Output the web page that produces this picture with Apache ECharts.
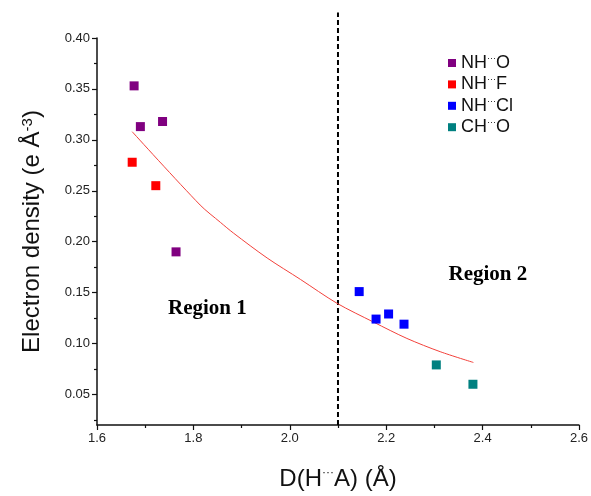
<!DOCTYPE html>
<html>
<head>
<meta charset="utf-8">
<script src="https://cdn.jsdelivr.net/npm/echarts@6/dist/echarts.min.js"></script>
<style>html,body{margin:0;padding:0;background:#fff}#c{width:591px;height:496px}</style>
</head>
<body>
<div id="c"></div>
<script>
const xTicks = [1.6, 1.8, 2.0, 2.2, 2.4, 2.6];
const yTicks = [0.05, 0.10, 0.15, 0.20, 0.25, 0.30, 0.35, 0.40];
const yMinorTicks = [0.025, 0.075, 0.125, 0.175, 0.225, 0.275, 0.325, 0.375];
const nhO = [[1.677, 0.353], [1.690, 0.313], [1.736, 0.318], [1.764, 0.190]];
const nhF = [[1.673, 0.278], [1.722, 0.255]];
const nhCl = [[2.144, 0.151], [2.179, 0.124], [2.205, 0.129], [2.237, 0.119]];
const chO = [[2.304, 0.079], [2.380, 0.060]];
const fitLine = [[1.673, 0.308], [1.814, 0.236], [1.856, 0.219], [1.883, 0.2085], [1.953, 0.184], [2.022, 0.163], [2.098, 0.1395], [2.174, 0.121], [2.243, 0.105], [2.312, 0.092], [2.381, 0.0814]];
const divider = [[2.1, 0.02], [2.1, 0.425]];
const regionLabels = [{ value: [1.829, 0.1346], name: 'Region 1' }, { value: [2.411, 0.1677], name: 'Region 2' }];
const seriesNames = ['NH\u00b7\u00b7\u00b7O', 'NH\u00b7\u00b7\u00b7F', 'NH\u00b7\u00b7\u00b7Cl', 'CH\u00b7\u00b7\u00b7O'];
const colors = ['#800080', '#ff0000', '#0000ff', '#008080'];

const chart = echarts.init(document.getElementById('c'));
const scatter = (name, data, color) => ({
  name, type: 'scatter', data, symbol: 'rect', symbolSize: 9,
  itemStyle: { color, opacity: 1 }, z: 5
});
const axisLineStyle = { color: '#111', width: 1.5 };
const tickStyle = { color: '#111', width: 1.2 };
chart.setOption({
  animation: false,
  grid: { left: 97, right: 12, top: 38, bottom: 69 },
  legend: {
    orient: 'vertical', left: 443, top: 49, itemGap: 3.4,
    itemWidth: 8, itemHeight: 8, icon: 'rect',
    data: seriesNames,
    formatter: n => {
      const p = n.split('\u00b7\u00b7\u00b7');
      return '{a|' + p[0] + '}{s|\u00b7\u00b7\u00b7}{a|' + p[1] + '}';
    },
    textStyle: {
      rich: {
        a: { fontFamily: 'Liberation Sans, Arial', fontSize: 18, color: '#111' },
        s: { fontFamily: 'Liberation Sans, Arial', fontSize: 9, color: '#111', verticalAlign: 'top' }
      }
    }
  },
  xAxis: {
    type: 'value', min: 1.6, max: 2.6, interval: 0.2,
    name: '{a|D(H}{s|\u00b7\u00b7\u00b7}{a|A) (\u00c5)}',
    nameLocation: 'middle', nameGap: 42,
    nameTextStyle: {
      rich: {
        a: { fontFamily: 'Liberation Sans, Arial', fontSize: 24, color: '#111' },
        s: { fontFamily: 'Liberation Sans, Arial', fontSize: 12, color: '#111', verticalAlign: 'top' }
      }
    },
    splitLine: { show: false },
    axisLine: { onZero: false, lineStyle: axisLineStyle },
    axisTick: { length: 5, lineStyle: tickStyle },
    minorTick: { show: true, splitNumber: 2, length: 3, lineStyle: tickStyle },
    axisLabel: { fontFamily: 'Liberation Sans, Arial', fontSize: 13, color: '#222', margin: 7,
      customValues: xTicks, formatter: v => v.toFixed(1) }
  },
  yAxis: [{
    type: 'value', min: 0.02, max: 0.40,
    name: '{a|Electron density (e \u00c5}{s|-3}{a|)}',
    nameLocation: 'middle', nameGap: 53,
    nameTextStyle: {
      rich: {
        a: { fontFamily: 'Liberation Sans, Arial', fontSize: 24, color: '#111' },
        s: { fontFamily: 'Liberation Sans, Arial', fontSize: 15, color: '#111', verticalAlign: 'top' }
      }
    },
    splitLine: { show: false },
    axisLine: { onZero: false, lineStyle: axisLineStyle },
    axisTick: { length: 5, customValues: yTicks, lineStyle: tickStyle },
    axisLabel: { fontFamily: 'Liberation Sans, Arial', fontSize: 13, color: '#222', margin: 7,
      customValues: yTicks, formatter: v => v.toFixed(2) }
  }, {
    type: 'value', min: 0.02, max: 0.40, position: 'left',
    splitLine: { show: false },
    axisLine: { show: false },
    axisLabel: { show: false },
    axisTick: { show: true, length: 3, customValues: yMinorTicks, lineStyle: tickStyle }
  }],
  series: [
    scatter(seriesNames[0], nhO, colors[0]),
    scatter(seriesNames[1], nhF, colors[1]),
    scatter(seriesNames[2], nhCl, colors[2]),
    scatter(seriesNames[3], chO, colors[3]),
    {
      type: 'line', data: fitLine, smooth: 0.3, symbol: 'none',
      lineStyle: { color: '#f2413b', width: 1 }, z: 3
    },
    {
      type: 'line', data: divider, symbol: 'none', clip: false,
      lineStyle: { color: '#000', width: 2, type: [5, 3] }, z: 2
    },
    {
      type: 'scatter', data: regionLabels, symbolSize: 0, silent: true,
      itemStyle: { opacity: 1 },
      label: {
        show: true, position: 'inside', formatter: p => p.name,
        fontFamily: 'Liberation Serif, Times New Roman', fontWeight: 'bold', fontSize: 21, color: '#000'
      }
    }
  ]
});
</script>
</body>
</html>
